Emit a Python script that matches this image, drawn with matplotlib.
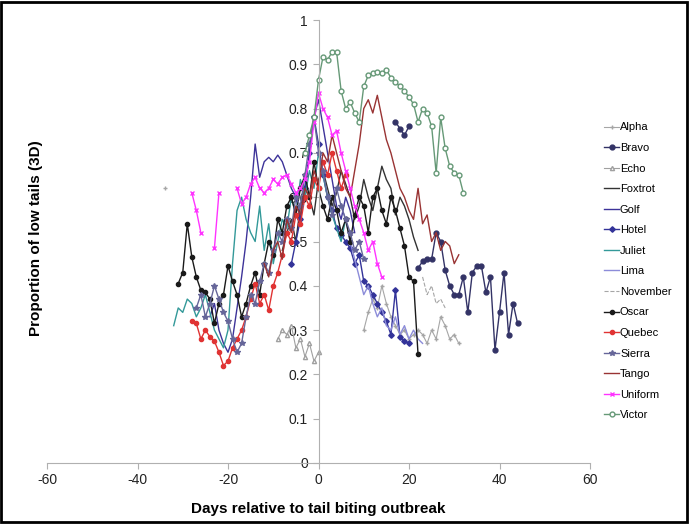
import matplotlib
matplotlib.use("Agg")
import matplotlib.pyplot as plt
from matplotlib.patches import Rectangle
import numpy as np

nan = np.nan

# first day of each series, then one value per day (nan = missing day)
alpha_start = 10
alpha_vals = [0.30, 0.34, 0.37, 0.35, 0.40, 0.36, 0.33, 0.31, 0.29, 0.30, 0.28,
	0.29, 0.30, 0.29, 0.27, 0.30, 0.28, 0.33, 0.31, 0.28, 0.29, 0.27]
alpha_extra_days = [-34]
alpha_extra_vals = [0.62]

bravo_start = 17
bravo_vals = [0.77, 0.755, 0.74, 0.76, nan, 0.44, 0.455, 0.46, 0.46, 0.52, 0.50,
	0.435, 0.40, 0.38, 0.38, 0.42, 0.34, 0.43, 0.445, 0.445, 0.385, 0.42, 0.255,
	0.34, 0.43, 0.29, 0.36, 0.315]

echo_start = -9
echo_vals = [0.28, 0.30, 0.29, 0.31, 0.26, 0.28, 0.24, 0.27, 0.23, 0.25]

foxtrot_start = -8
foxtrot_vals = [0.48, 0.52, 0.55, 0.50, 0.58, 0.62, 0.60, 0.56, 0.64, 0.66, 0.62,
	0.58, 0.61, 0.66, 0.63, 0.60, 0.55, 0.58, 0.64, 0.60, 0.57, 0.62, 0.67, 0.64,
	0.62, 0.56, 0.60, 0.58, 0.55, 0.51, 0.48]

golf_start = -24
golf_vals = [0.33, 0.36, 0.30, 0.27, 0.25, 0.28, 0.35, 0.42, 0.50, 0.60, 0.72,
	0.645, 0.68, 0.69, 0.68, 0.695, 0.68, 0.65, 0.62, 0.60, 0.55, 0.62, 0.70,
	0.78, 0.82, 0.76, 0.70, 0.64, 0.58, 0.55, 0.60, 0.57, 0.52]

hotel_start = -6
hotel_vals = [0.45, 0.50, 0.55, 0.62, 0.70, 0.78, 0.72, 0.65, 0.60, 0.57, 0.53,
	0.515, 0.50, 0.485, 0.45, 0.47, 0.41, 0.40, 0.38, 0.36, 0.34, 0.32, 0.29,
	0.39, 0.285, 0.275, 0.27]

juliet_start = -32
juliet_vals = [0.31, 0.35, 0.34, 0.37, 0.36, 0.33, 0.35, 0.38, 0.34, 0.30, 0.28,
	0.26, 0.30, 0.45, 0.57, 0.60, 0.55, 0.52, 0.50, 0.58, 0.48, 0.54, 0.45, 0.50,
	0.55, 0.53, 0.60, 0.56, 0.64, 0.60, 0.66, 0.62, 0.70, 0.65, 0.60, 0.56, 0.53,
	0.50, 0.55]

lima_start = 5
lima_vals = [0.58, 0.55, 0.50, 0.46, 0.42, 0.38, 0.40, 0.36, 0.33, 0.35, 0.31,
	0.30, 0.33, 0.29, 0.31, 0.28, 0.30, 0.28, 0.27]

november_start = 23
november_vals = [0.42, 0.38, 0.40, 0.36, 0.37, 0.35]

oscar_start = -31
oscar_vals = [0.405, 0.43, 0.54, 0.465, 0.42, 0.39, 0.385, 0.37, 0.315, 0.36,
	0.38, 0.445, 0.41, 0.38, 0.33, 0.36, 0.40, 0.43, 0.38, 0.45, 0.50, 0.47, 0.55,
	0.52, 0.58, 0.60, 0.56, 0.62, 0.65, 0.60, 0.68, 0.62, 0.58, 0.55, 0.60, 0.57,
	0.52, 0.55, 0.50, 0.56, 0.60, 0.58, 0.52, 0.60, 0.62, 0.57, 0.54, 0.60, 0.57,
	0.53, 0.49, 0.42, 0.41, 0.245]

quebec_start = -28
quebec_vals = [0.32, 0.315, 0.28, 0.30, 0.285, 0.275, 0.25, 0.22, 0.23, 0.26,
	0.28, 0.30, 0.33, 0.37, 0.405, 0.36, 0.38, 0.345, 0.40, 0.43, 0.47, 0.52,
	0.50, 0.56, 0.54, 0.60, 0.58, 0.64, 0.62, 0.68, 0.65, 0.70, 0.66, 0.62, 0.65]

sierra_start = -27
sierra_vals = [0.35, 0.38, 0.33, 0.36, 0.40, 0.37, 0.34, 0.32, 0.28, 0.25, 0.27,
	0.33, 0.38, 0.36, 0.41, 0.45, 0.43, 0.48, 0.52, 0.50, 0.55, 0.53, 0.60, 0.58,
	0.65, 0.72, 0.78, 0.70, 0.66, 0.60, 0.56, 0.62, 0.58, 0.55, 0.52, 0.48, 0.50,
	0.46]

tango_start = -12
tango_vals = [0.45, 0.42, 0.48, 0.50, 0.46, 0.55, 0.52, 0.58, 0.56, 0.62, 0.60,
	0.66, 0.63, 0.70, 0.68, 0.74, 0.70, 0.66, 0.62, 0.60, 0.66, 0.72, 0.80, 0.82,
	0.79, 0.83, 0.78, 0.73, 0.70, 0.66, 0.62, 0.60, 0.57, 0.55, 0.62, 0.54, 0.56,
	0.50, 0.52, 0.48, 0.50, 0.49, 0.45, 0.47]

uniform_start = -28
uniform_vals = [0.61, 0.57, 0.52, nan, nan, 0.485, 0.61, nan, nan, nan, 0.62,
	0.585, 0.60, 0.63, 0.645, 0.62, 0.61, 0.62, 0.64, 0.63, 0.645, 0.65, 0.63,
	0.61, 0.62, 0.64, 0.68, 0.77, 0.835, 0.80, 0.78, 0.74, 0.75, 0.70, 0.66, 0.62,
	0.58, 0.55, 0.52, 0.48, 0.50, 0.45, 0.42]

victor_start = -3
victor_vals = [0.70, 0.74, 0.78, 0.865, 0.917, 0.91, 0.928, 0.928, 0.84, 0.80,
	0.815, 0.79, 0.77, 0.85, 0.875, 0.88, 0.883, 0.88, 0.887, 0.87, 0.86, 0.85,
	0.84, 0.826, 0.81, 0.77, 0.80, 0.79, 0.76, 0.655, 0.78, 0.71, 0.67, 0.655,
	0.65, 0.61]

series = [
	("Alpha", alpha_start, alpha_vals, dict(color="#a6a6a6", marker="+", ms=3, lw=0.8)),
	("Bravo", bravo_start, bravo_vals, dict(color="#333366", marker="o", ms=3.5, lw=1)),
	("Echo", echo_start, echo_vals, dict(color="#a0a0a0", marker="^", ms=3, mfc="white", lw=0.8)),
	("Foxtrot", foxtrot_start, foxtrot_vals, dict(color="#333333", lw=1)),
	("Golf", golf_start, golf_vals, dict(color="#3d3399", lw=1)),
	("Hotel", hotel_start, hotel_vals, dict(color="#333399", marker="D", ms=2.8, lw=1)),
	("Juliet", juliet_start, juliet_vals, dict(color="#339999", lw=1)),
	("Lima", lima_start, lima_vals, dict(color="#8c8cd9", lw=1)),
	("November", november_start, november_vals, dict(color="#a6a6a6", ls="--", lw=0.8)),
	("Oscar", oscar_start, oscar_vals, dict(color="#1a1a1a", marker="o", ms=3, lw=1)),
	("Quebec", quebec_start, quebec_vals, dict(color="#e03333", marker="o", ms=3, lw=1)),
	("Sierra", sierra_start, sierra_vals, dict(color="#666699", marker="*", ms=4, lw=1)),
	("Tango", tango_start, tango_vals, dict(color="#993333", lw=1)),
	("Uniform", uniform_start, uniform_vals, dict(color="#ff33ff", marker="x", ms=3, lw=1)),
	("Victor", victor_start, victor_vals, dict(color="#669977", marker="o", ms=3.5, mfc="white", lw=1)),
]

plt.rcParams['font.family'] = ['Liberation Sans', 'DejaVu Sans']
plt.rcParams['axes.unicode_minus'] = False

fig = plt.figure(figsize=(6.89, 5.24), dpi=100)
ax = fig.add_axes([47 / 689, 61 / 524, 543 / 689, 443 / 524])

for name, start, vals, style in series:
	days = start + np.arange(len(vals))
	ax.plot(days, vals, label=name, **style)

ax.plot(alpha_extra_days, alpha_extra_vals, color="#a6a6a6", marker="+", ms=3, lw=0)

ax.set_xlim(-60, 60)
ax.set_ylim(0, 1)
ax.set_xticks(range(-60, 61, 20))
ax.set_yticks(np.arange(0, 1.01, 0.1))
ax.yaxis.set_major_formatter(matplotlib.ticker.FormatStrFormatter("%g"))
ax.spines["top"].set_visible(False)
ax.spines["right"].set_visible(False)
ax.spines["left"].set_position(("data", 0))
for s in ("left", "bottom"):
	ax.spines[s].set_color("#b0b0b0")
	ax.spines[s].set_linewidth(0.8)
ax.tick_params(colors="#b0b0b0", labelcolor="#222222", labelsize=10, length=4)

fig.text(36 / 689, 1 - 238 / 524, "Proportion of low tails (3D)", rotation=90,
	ha="center", va="center", fontsize=11, fontweight="bold")
fig.text(318 / 689, 1 - 509 / 524, "Days relative to tail biting outbreak",
	ha="center", va="center", fontsize=11, fontweight="bold")

fig.legend(loc="upper left", bbox_to_anchor=(600 / 689, 1 - 118 / 524),
	frameon=False, fontsize=8, handlelength=1.3, handletextpad=0.1,
	labelspacing=0.95, borderaxespad=0)

fig.patches.append(Rectangle((0.002, 0.003), 0.995, 0.994, transform=fig.transFigure,
	fill=False, edgecolor="black", linewidth=2))

fig.savefig("out.png", dpi=100)
